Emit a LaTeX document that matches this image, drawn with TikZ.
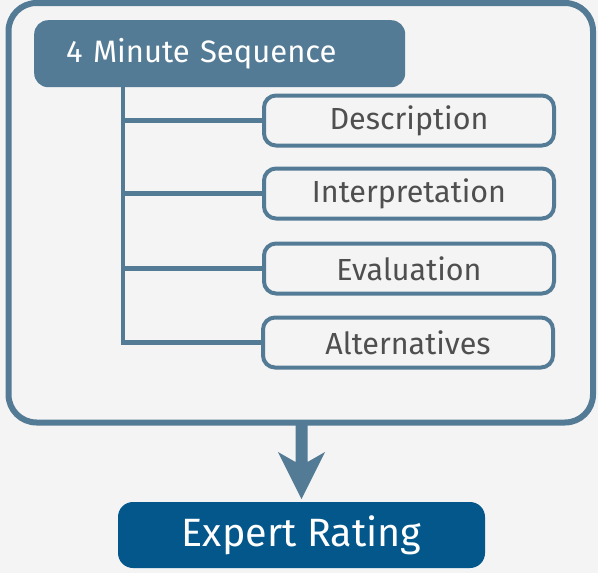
\documentclass[tikz,border=0pt]{standalone}
\usepackage{fontspec}
\setmainfont{Fira Sans}
\definecolor{bgc}{HTML}{F4F4F4}
\definecolor{steel}{HTML}{547B95}
\definecolor{deepblue}{HTML}{03578B}
\definecolor{txtgray}{HTML}{4F4F4F}
\tikzset{
  stagebox/.style={draw=steel, line width=4pt, fill=bgc, rounded corners=12pt,
    minimum width=290pt, minimum height=50pt, inner sep=0pt,
    text=txtgray, font=\fontsize{30.5}{36}\selectfont},
  link/.style={draw=steel, line width=4.5pt},
}
\begin{document}
\begin{tikzpicture}[x=1pt,y=-1pt]
  \useasboundingbox (0,0) rectangle (598,573);
  \fill[bgc] (0,0) rectangle (598,573);
  % outer frame
  \draw[steel, line width=6pt, rounded corners=28pt] (8.5,3) rectangle (593,422.5);
  % title box
  \node[fill=steel, rounded corners=14pt, minimum width=371pt, minimum height=67pt,
    inner xsep=32pt, inner ysep=0pt, text=white, font=\fontsize{31}{36}\selectfont,
    anchor=north west, align=left, text width=307pt]
    (title) at (34,20) {4 Minute Sequence};
  % stages
  \node[stagebox] (desc) at (409,120.5) {Description};
  \node[stagebox] (interp) at (409,193.5) {Interpretation};
  \node[stagebox] (eval) at (409,268.5) {Evaluation};
  \node[stagebox] (alt) at (408,342.5) {Alternatives};
  % connector tree
  \coordinate (trunk) at (123,87);
  \draw[link] (trunk) |- (alt.west);
  \draw[link] (trunk |- desc.west) -- (desc.west);
  \draw[link] (trunk |- interp.west) -- (interp.west);
  \draw[link] (trunk |- eval.west) -- (eval.west);
  % result box
  \node[fill=deepblue, rounded corners=15pt, minimum width=367pt, minimum height=66pt,
    inner sep=0pt, text=white, font=\fontsize{39.5}{48}\selectfont]
    (rating) at (301.5,535) {Expert Rating};
  % arrow
  \coordinate (src) at (301.5,425);
  \fill[steel] (295.5,425) -- (307.5,425) -- (307.5,462) -- (325,452) -- (301.5,499)
    -- (278,452) -- (295.5,462) -- cycle;
\end{tikzpicture}
\end{document}
